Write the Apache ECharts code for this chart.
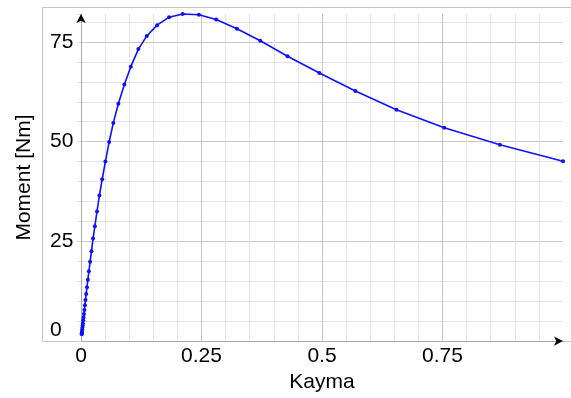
<!DOCTYPE html>
<html>
<head>
<meta charset="utf-8">
<script src="https://cdn.jsdelivr.net/npm/echarts@6/dist/echarts.min.js"></script>
<style>
html,body{margin:0;padding:0;background:#fff;}
#c{width:571px;height:398px;}
</style>
</head>
<body>
<div id="c"></div>
<script>
const kayma = [0.0015,0.0017,0.0020,0.0023,0.0026,0.0030,0.0035,0.0040,0.0046,0.0053,0.0061,0.0070,0.0081,0.0093,0.0107,0.0124,0.0142,0.0164,0.0189,0.0217,0.0250,0.0288,0.0332,0.0382,0.0440,0.0506,0.0583,0.0671,0.0775,0.0900,0.1033,0.1191,0.1365,0.1579,0.1828,0.2109,0.2445,0.2805,0.3235,0.3719,0.4286,0.4945,0.5693,0.6545,0.7536,0.8691,1.0000];
const moment = [1.7,1.9,2.2,2.6,2.9,3.4,3.9,4.5,5.2,5.9,6.8,7.8,9.0,10.3,11.8,13.5,15.4,17.5,19.9,22.5,25.7,28.8,32.5,36.5,40.6,45.0,49.9,54.7,59.5,64.3,68.8,73.2,76.5,79.2,81.2,82.0,81.8,80.6,78.3,75.3,71.4,67.2,62.7,58.0,53.5,49.2,45.1];
const xTicks = [0, 0.25, 0.5, 0.75];
const yTicks = [0, 25, 50, 75];
const xName = 'Kayma';
const yName = 'Moment [Nm]';

const FONT = 'Liberation Sans, Arial, sans-serif';
const chart = echarts.init(document.getElementById('c'), null, {renderer: 'canvas'});
const points = kayma.map((x, i) => [x, moment[i]]);

chart.setOption({
  animation: false,
  backgroundColor: '#fff',
  graphic: [{
    type: 'rect', z: -10, silent: true,
    shape: {x: 42.5, y: 7.5, width: 600, height: 334},
    style: {fill: 'none', stroke: '#c4c4c4', lineWidth: 1}
  }],
  grid: {left: 81, right: 8, top: 14, bottom: 56},
  xAxis: [{
    type: 'value', min: 0, max: 1, interval: 0.25,
    name: xName, nameLocation: 'middle', nameGap: 28,
    nameTextStyle: {color: '#000', fontSize: 21, fontFamily: FONT},
    axisLine: {show: true, onZero: false, lineStyle: {color: '#aaaaaa', width: 1}},
    axisTick: {show: false},
    axisLabel: {color: '#000', fontSize: 21, fontFamily: FONT, margin: 5, showMaxLabel: false,
      formatter: v => xTicks.indexOf(v) >= 0 ? String(v) : ''},
    splitLine: {show: true, showMinLine: false, showMaxLine: false, lineStyle: {color: '#c8c8c8', width: 1}},
    minorTick: {show: false, splitNumber: 5},
    minorSplitLine: {show: true, lineStyle: {color: '#e4e4e4', width: 1}}
  }, {
    type: 'value', min: 0, max: 1, position: 'bottom',
    axisLine: {show: true, onZero: false, symbol: ['none', 'arrow'], symbolSize: [7, 9], symbolOffset: [0, 0],
      lineStyle: {color: '#000', width: 0}},
    axisTick: {show: false}, axisLabel: {show: false}, splitLine: {show: false}
  }],
  yAxis: [{
    type: 'value', min: 0, max: 82, interval: 5, position: 'left',
    axisLine: {show: false},
    axisTick: {show: true, length: 4, lineStyle: {color: '#dcdcdc'}},
    axisLabel: {show: false},
    splitLine: {show: true, showMinLine: false, showMaxLine: false, lineStyle: {color: '#e4e4e4', width: 1}}
  }, {
    type: 'value', min: 0, max: 82, interval: 25, position: 'left',
    name: yName, nameLocation: 'middle', nameGap: 46, nameRotate: 90,
    nameTextStyle: {color: '#000', fontSize: 21, fontFamily: FONT},
    axisLine: {show: true, onZero: false, lineStyle: {color: '#aaaaaa', width: 1}},
    axisTick: {show: false},
    axisLabel: {color: '#000', fontSize: 21, fontFamily: FONT, align: 'left', margin: 31,
      showMaxLabel: false, verticalAlignMinLabel: 'bottom',
      formatter: v => yTicks.indexOf(v) >= 0 ? String(v) : ''},
    splitLine: {show: true, showMinLine: false, showMaxLine: false, lineStyle: {color: '#c8c8c8', width: 1}}
  }, {
    type: 'value', min: 0, max: 82, position: 'left',
    axisLine: {show: true, onZero: false, symbol: ['none', 'arrow'], symbolSize: [7, 9],
      lineStyle: {color: '#000', width: 0}},
    axisTick: {show: false}, axisLabel: {show: false}, splitLine: {show: false}
  }],
  series: [{
    type: 'line', xAxisIndex: 0, yAxisIndex: 1,
    data: points,
    showSymbol: true, showAllSymbol: true,
    symbol: 'circle', symbolSize: 4,
    clip: false,
    lineStyle: {color: '#1010ff', width: 1.6},
    itemStyle: {color: '#1010ff'},
    z: 5
  }]
});
</script>
</body>
</html>
